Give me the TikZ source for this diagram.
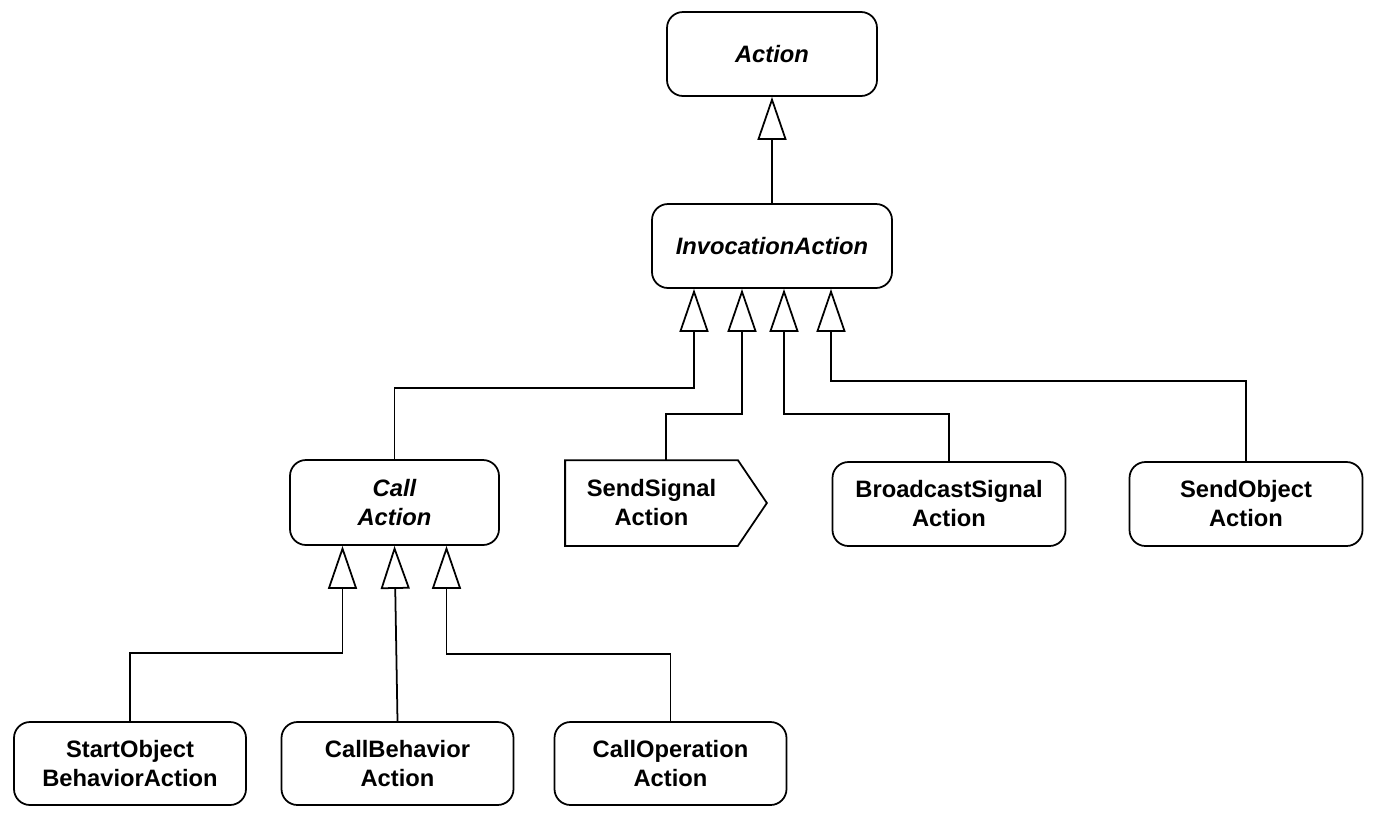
\documentclass[tikz,border=0pt]{standalone}
\usepackage{fontspec}
\setmainfont{Liberation Sans}
\usetikzlibrary{arrows.meta}

\tikzset{
  box/.style={draw, line width=1pt, rounded corners=0.32cm, align=center,
    minimum width=4.66cm, minimum height=1.68cm, inner sep=2pt,
    font=\fontsize{13.5}{16.5}\selectfont\bfseries},
  abstractbox/.style={box, font=\fontsize{13.5}{16.5}\selectfont\bfseries\itshape},
  gen/.style={line width=1pt, -{Triangle[open,length=0.86cm,width=0.58cm]}}
}

\begin{document}
\begin{tikzpicture}
  \useasboundingbox (0,0) rectangle (27.56,-16.44);

  \node[abstractbox, minimum width=4.2cm] (act) at (15.44,-1.08) {Action};
  \node[abstractbox, minimum width=4.8cm] (inv) at (15.44,-4.92) {InvocationAction};

  \node[abstractbox, minimum width=4.18cm, minimum height=1.7cm] (call) at (7.89,-10.05) {Call\\Action};
  \node[box, draw=none, minimum width=3.42cm] (ssig) at (13.03,-10.06) {SendSignal\\Action};
  \node[box] (bsig) at (18.98,-10.08) {BroadcastSignal\\Action};
  \node[box] (sobj) at (24.92,-10.08) {SendObject\\Action};

  \node[box, minimum width=4.64cm, minimum height=1.66cm] (sob) at (2.6,-15.27) {StartObject\\BehaviorAction};
  \node[box, minimum width=4.64cm, minimum height=1.66cm] (cbeh) at (7.95,-15.27) {CallBehavior\\Action};
  \node[box, minimum width=4.64cm, minimum height=1.66cm] (cop) at (13.41,-15.27) {CallOperation\\Action};

  % send signal pentagon
  \draw[line width=1pt, line join=miter] (ssig.north west) -- (ssig.north east) -- ([xshift=0.58cm]ssig.east)
    -- (ssig.south east) -- (ssig.south west) -- cycle;

  % generalizations
  \draw[gen] (inv.north) -- (act.south);

  \draw[gen] (call.north) -- ++(0,1.42) -| ([xshift=-1.56cm]inv.south);
  \draw[gen] ([xshift=0.29cm]ssig.north) -- ++(0,0.92) -| ([xshift=-0.6cm]inv.south);
  \draw[gen] (bsig.north) -- ++(0,0.94) -| ([xshift=0.24cm]inv.south);
  \draw[gen] (sobj.north) -- ++(0,1.6) -| ([xshift=1.18cm]inv.south);

  \draw[gen] (sob.north) -- ++(0,1.36) -| ([xshift=-1.04cm]call.south);
  \draw[gen] (cbeh.north) -- (call.south);
  \draw[gen] (cop.north) -- ++(0,1.34) -| ([xshift=1.04cm]call.south);

\end{tikzpicture}
\end{document}
